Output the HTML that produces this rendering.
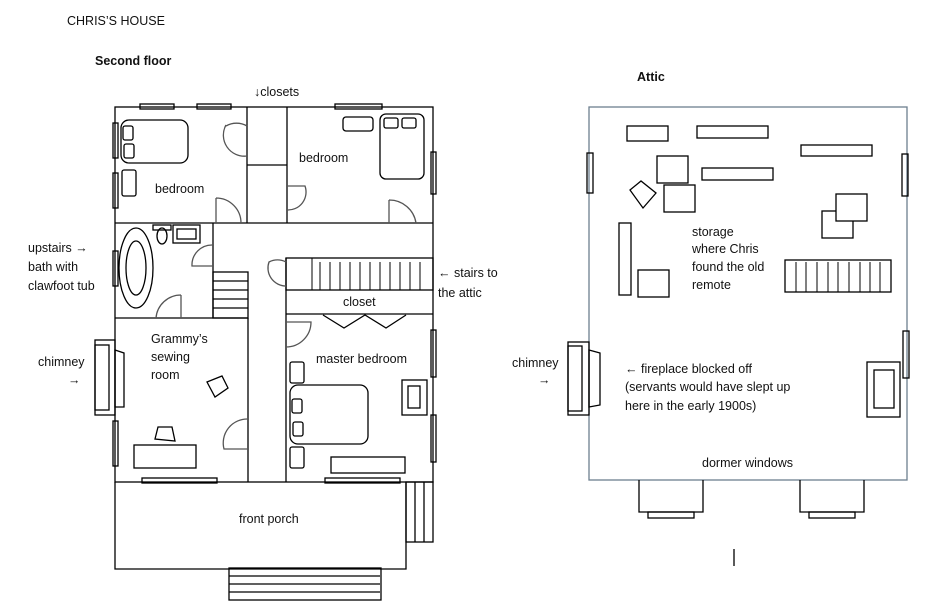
<!DOCTYPE html>
<html><head><meta charset="utf-8"><style>
body{margin:0;background:#fff}
svg{display:block}
text{font-family:"Liberation Sans",sans-serif;font-size:12.5px;fill:#111}
</style></head><body>
<svg width="945" height="612" viewBox="0 0 945 612" xmlns="http://www.w3.org/2000/svg">
<g fill="none" stroke="#000" stroke-width="1.3">
<!-- house outline -->
<rect x="115" y="107" width="318" height="375"/>
<line x1="115" y1="223" x2="433" y2="223"/>
<line x1="247" y1="107" x2="247" y2="223"/>
<line x1="287" y1="107" x2="287" y2="223"/>
<line x1="247" y1="165" x2="287" y2="165"/>
<line x1="213" y1="223" x2="213" y2="318"/>
<line x1="115" y1="318" x2="248" y2="318"/>
<rect x="213" y="272" width="35" height="46"/>
<line x1="213" y1="281" x2="248" y2="281"/><line x1="213" y1="290" x2="248" y2="290"/><line x1="213" y1="299" x2="248" y2="299"/><line x1="213" y1="308" x2="248" y2="308"/>
<line x1="248" y1="318" x2="248" y2="482"/>
<line x1="286" y1="258" x2="286" y2="482"/>
<rect x="286" y="258" width="147" height="32"/>
<line x1="286" y1="314" x2="433" y2="314"/>
<g stroke-width="1">
<line x1="312" y1="258" x2="312" y2="290"/><line x1="320" y1="262" x2="320" y2="290"/><line x1="330" y1="262" x2="330" y2="290"/><line x1="340" y1="262" x2="340" y2="290"/><line x1="350" y1="262" x2="350" y2="290"/><line x1="360" y1="262" x2="360" y2="290"/><line x1="370" y1="262" x2="370" y2="290"/><line x1="380" y1="262" x2="380" y2="290"/><line x1="390" y1="262" x2="390" y2="290"/><line x1="400" y1="262" x2="400" y2="290"/><line x1="410" y1="262" x2="410" y2="290"/><line x1="420" y1="262" x2="420" y2="290"/>
</g>
<polyline points="323,315 344,328 365,315 386,328 406,315"/>
<!-- windows -->
<rect x="140" y="104" width="34" height="5"/><rect x="197" y="104" width="34" height="5"/><rect x="335" y="104" width="47" height="5"/>
<rect x="113" y="123" width="5" height="35"/><rect x="113" y="173" width="5" height="35"/><rect x="113" y="251" width="5" height="35"/>
<rect x="431" y="152" width="5" height="42"/><rect x="431" y="330" width="5" height="47"/><rect x="431" y="415" width="5" height="47"/>
<rect x="113" y="421" width="5" height="45"/>
<rect x="142" y="478" width="75" height="5"/><rect x="325" y="478" width="75" height="5"/>
<!-- furniture -->
<rect x="121" y="120" width="67" height="43" rx="8"/><rect x="123" y="126" width="10" height="14" rx="2"/><rect x="124" y="144" width="10" height="14" rx="2"/>
<rect x="122" y="170" width="14" height="26" rx="2"/>
<rect x="343" y="117" width="30" height="14" rx="3"/><rect x="380" y="114" width="44" height="65" rx="6"/><rect x="384" y="118" width="14" height="10" rx="2"/><rect x="402" y="118" width="14" height="10" rx="2"/>
<ellipse cx="136" cy="268" rx="17" ry="40"/><ellipse cx="136" cy="268" rx="10" ry="27"/>
<rect x="153" y="225" width="18" height="5"/><ellipse cx="162" cy="236" rx="5" ry="8"/>
<rect x="173" y="225" width="27" height="18"/><rect x="177" y="229" width="19" height="10"/>
<rect x="290" y="385" width="78" height="59" rx="8"/><rect x="290" y="362" width="14" height="21" rx="2"/><rect x="292" y="399" width="10" height="14" rx="2"/><rect x="293" y="422" width="10" height="14" rx="2"/><rect x="290" y="447" width="14" height="21" rx="2"/>
<rect x="402" y="380" width="25" height="35"/><rect x="408" y="386" width="12" height="22"/>
<rect x="331" y="457" width="74" height="16"/>
<rect x="134" y="445" width="62" height="23"/>
<polygon points="155,439 158,427 172,427 175,441"/>
<polygon points="207,382 222,376 228,388 215,397"/>
<!-- chimney -->
<rect x="95" y="340" width="20" height="75"/><rect x="95" y="345" width="14" height="65"/><polygon points="115,350 124,353 124,407 115,407"/>
<!-- doors -->
<g stroke="#555">
<path d="M247,126 A21,21 0 0 0 226,126 L226,126" /><path d="M226,125 A21,21 0 0 0 247,156"/>
<path d="M216,198 L216,223 M216,198 A25,25 0 0 1 241,223"/>
<path d="M287,186 L305,186 A18,18 0 0 1 287,210"/>
<path d="M389,200 L389,223 M389,200 A27,27 0 0 1 416,223"/>
<path d="M213,245 A20,20 0 0 0 192,266 L213,266"/>
<path d="M181,295 L181,318 M181,295 A25,25 0 0 0 156,318"/>
<path d="M286,262 A18,18 0 0 0 269,262 A18,18 0 0 0 286,286"/>
<path d="M286,322 L311,322 A25,25 0 0 1 286,347"/>
<path d="M248,419 A24,24 0 0 0 224,449 L248,449"/>
</g>
<!-- porch -->
<polyline points="115,482 115,569 406,569 406,482"/>
<rect x="406" y="482" width="27" height="60"/><line x1="415" y1="482" x2="415" y2="542"/><line x1="424" y1="482" x2="424" y2="542"/>
<rect x="229" y="568" width="152" height="32"/><line x1="229" y1="576" x2="380" y2="576"/><line x1="229" y1="584" x2="380" y2="584"/><line x1="229" y1="592" x2="380" y2="592"/>
<!-- attic -->
<rect x="589" y="107" width="318" height="373" stroke="#6d7f8f"/>
<rect x="587" y="153" width="6" height="40"/><rect x="902" y="154" width="6" height="42"/><rect x="903" y="331" width="6" height="47"/>
<rect x="627" y="126" width="41" height="15"/><rect x="697" y="126" width="71" height="12"/><rect x="801" y="145" width="71" height="11"/>
<rect x="657" y="156" width="31" height="27"/><rect x="702" y="168" width="71" height="12"/><rect x="664" y="185" width="31" height="27"/>
<polygon points="630,190 641,181 656,193 643,208"/>
<rect x="822" y="211" width="31" height="27"/><rect x="836" y="194" width="31" height="27" fill="#fff"/>
<rect x="619" y="223" width="12" height="72"/><rect x="638" y="270" width="31" height="27"/>
<rect x="785" y="260" width="106" height="32"/>
<g stroke-width="1"><line x1="796" y1="262" x2="796" y2="292"/><line x1="806" y1="262" x2="806" y2="292"/><line x1="817" y1="262" x2="817" y2="292"/><line x1="828" y1="262" x2="828" y2="292"/><line x1="838" y1="262" x2="838" y2="292"/><line x1="849" y1="262" x2="849" y2="292"/><line x1="860" y1="262" x2="860" y2="292"/><line x1="870" y1="262" x2="870" y2="292"/><line x1="880" y1="262" x2="880" y2="292"/></g>
<rect x="867" y="362" width="33" height="55"/><rect x="874" y="370" width="20" height="38"/>
<rect x="568" y="342" width="21" height="73"/><rect x="568" y="346" width="14" height="65"/><polygon points="589,350 600,353 600,405 589,407"/>
<polyline points="639,480 639,512 703,512 703,480"/><rect x="648" y="512" width="46" height="6"/>
<polyline points="800,480 800,512 864,512 864,480"/><rect x="809" y="512" width="46" height="6"/>
<line x1="734" y1="549" x2="734" y2="566"/>
</g>
<text x="67" y="25">CHRIS’S HOUSE</text>
<text x="95" y="65" font-weight="bold">Second floor</text>
<text x="637" y="81" font-weight="bold">Attic</text>
<text x="254" y="96">↓closets</text>
<text x="155" y="193">bedroom</text>
<text x="299" y="162">bedroom</text>
<text x="28" y="252">upstairs →</text><text x="28" y="271">bath with</text><text x="28" y="290">clawfoot tub</text>
<text x="438" y="277">← stairs to</text><text x="438" y="297">the attic</text>
<text x="343" y="306">closet</text>
<text x="151" y="343">Grammy’s</text><text x="151" y="361">sewing</text><text x="151" y="379">room</text>
<text x="316" y="363">master bedroom</text>
<text x="38" y="366">chimney</text><text x="68" y="384">→</text>
<text x="239" y="523">front porch</text>
<text x="692" y="236">storage</text><text x="692" y="253">where Chris</text><text x="692" y="271">found the old</text><text x="692" y="289">remote</text>
<text x="512" y="367">chimney</text><text x="538" y="384">→</text>
<text x="625" y="373">← fireplace blocked off</text><text x="625" y="391">(servants would have slept up</text><text x="625" y="410">here in the early 1900s)</text>
<text x="702" y="467">dormer windows</text>
</g>
</svg>
</body></html>
